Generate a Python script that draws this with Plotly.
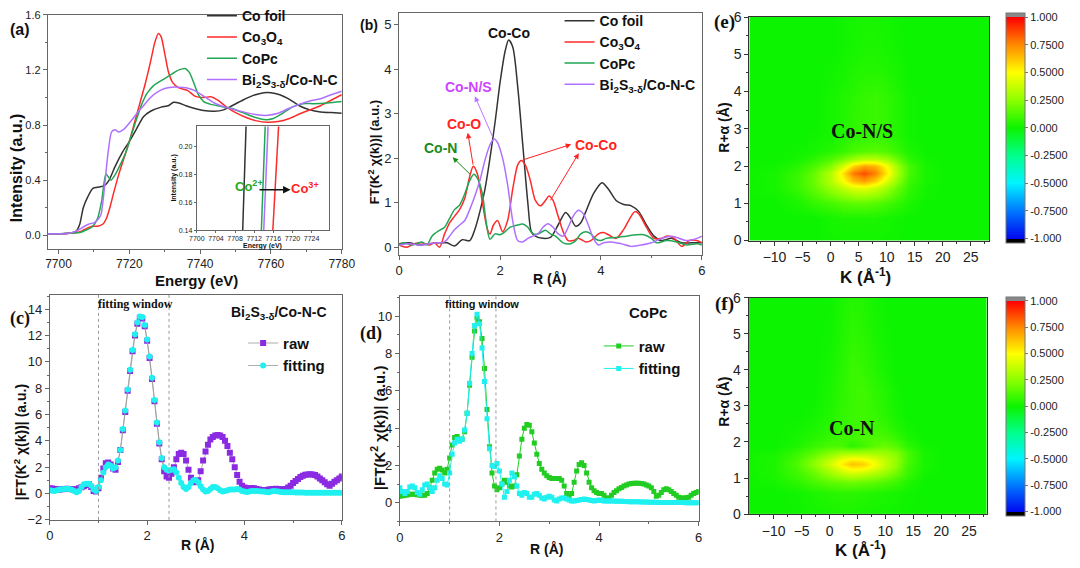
import numpy as np
import plotly.graph_objects as go

W, H = 1080, 568
SANS = "Arial, Liberation Sans, sans-serif"
SERIF = "Times New Roman, Liberation Serif, serif"

def dx(p):
    return p / W

def dy(p):
    return 1 - p / H

# ---------------- (a) XANES ----------------
a_foil_E = [7697, 7700, 7703, 7705, 7706, 7707, 7708.3, 7709.7, 7711.5, 7713, 7714.3, 7716, 7718, 7720, 7722,
            7724, 7726, 7729, 7731, 7732.5, 7734, 7736, 7738.5, 7741, 7744, 7746.6, 7749, 7752, 7755, 7758,
            7760, 7762.5, 7765, 7768, 7771, 7774, 7777, 7780]
a_foil_I = [0.01, 0.01, 0.015, 0.03, 0.08, 0.2, 0.28, 0.34, 0.35, 0.36, 0.40, 0.5, 0.6, 0.68, 0.77,
            0.86, 0.9, 0.93, 0.94, 0.965, 0.96, 0.94, 0.92, 0.905, 0.90, 0.91, 0.94, 0.98, 1.015, 1.035,
            1.035, 1.02, 0.99, 0.94, 0.91, 0.895, 0.89, 0.885]
a_co3o4_E = [7697, 7700, 7703, 7705, 7706.5, 7708, 7709.5, 7711, 7712.5, 7713.5, 7714.5, 7715.5, 7717, 7718.5,
             7720, 7721.5, 7723, 7724.5, 7726, 7727.2, 7728.2, 7729, 7730, 7731, 7732.2, 7734, 7736.5, 7738.5,
             7741, 7743, 7745, 7747.5, 7750, 7753, 7756, 7759, 7762, 7765, 7768, 7771, 7774, 7777, 7780]
a_co3o4_I = [0.01, 0.01, 0.015, 0.02, 0.03, 0.05, 0.065, 0.065, 0.08, 0.12, 0.2, 0.3, 0.44, 0.56,
             0.68, 0.82, 0.96, 1.1, 1.26, 1.40, 1.465, 1.44, 1.32, 1.19, 1.11, 1.07, 1.05, 1.01,
             1.0, 1.005, 0.98, 0.93, 0.89, 0.855, 0.83, 0.82, 0.825, 0.845, 0.88, 0.91, 0.94, 0.98, 1.02]
a_copc_E = [7697, 7700, 7703, 7706, 7708, 7709.5, 7711, 7712.2, 7713.4, 7714.8, 7716, 7717.6, 7719, 7720.5,
            7722, 7723.5, 7725, 7727, 7729.5, 7732, 7734, 7735.8, 7737, 7738.3, 7739.5, 7741, 7743, 7746,
            7749, 7752, 7755, 7758, 7760.5, 7763, 7766, 7769, 7772, 7776, 7780]
a_copc_I = [0.01, 0.01, 0.015, 0.02, 0.04, 0.06, 0.12, 0.25, 0.445, 0.40, 0.44, 0.52, 0.6, 0.72,
            0.84, 0.95, 1.03, 1.09, 1.13, 1.17, 1.2, 1.21, 1.18, 1.10, 1.02, 0.97, 0.95, 0.935,
            0.92, 0.89, 0.86, 0.84, 0.845, 0.88, 0.93, 0.955, 0.955, 0.96, 0.97]
a_bi_E = [7697, 7700, 7703, 7705, 7707, 7708.5, 7710, 7711, 7712, 7713, 7714, 7715, 7716, 7717, 7718.5,
          7720.5, 7722, 7724, 7726, 7728, 7730, 7732, 7734, 7736, 7738.5, 7741, 7744, 7747, 7750, 7753,
          7756, 7759, 7762, 7765, 7768, 7771, 7774, 7777, 7780]
a_bi_I = [0.01, 0.01, 0.015, 0.03, 0.06, 0.08, 0.09, 0.11, 0.15, 0.35, 0.6, 0.75, 0.765, 0.75, 0.77,
          0.83, 0.88, 0.94, 1.0, 1.04, 1.065, 1.075, 1.075, 1.07, 1.05, 1.01, 0.96, 0.93, 0.91, 0.89,
          0.875, 0.87, 0.885, 0.92, 0.95, 0.975, 0.99, 1.02, 1.045]

# inset of (a): edge crossing
ins_I = [0.14, 0.2147]
ins_foil_E = [7709.6, 7710.3]
ins_copc_E = [7713.5, 7714.3]
ins_bi_E = [7714.0, 7714.9]
ins_co3o4_E = [7715.9, 7717.1]

# ---------------- (b) FT-EXAFS ----------------
b_foil_R = [0, 0.2, 0.4, 0.6, 0.8, 0.95, 1.1, 1.25, 1.4, 1.5, 1.6, 1.7, 1.8, 1.9, 2.0, 2.1, 2.17, 2.25, 2.35,
            2.45, 2.55, 2.62, 2.7, 2.85, 3.0, 3.15, 3.3, 3.4, 3.5, 3.6, 3.7, 3.85, 4.02, 4.15, 4.3, 4.45, 4.6,
            4.75, 4.9, 5.05, 5.2, 5.4, 5.6, 5.8, 6.0]
b_foil_v = [0.08, 0.1, 0.05, 0.08, 0.1, 0.1, 0.03, 0.17, 0.15, 0.4, 0.8, 1.3, 2.0, 2.8, 3.7, 4.4, 4.65, 4.5, 3.6,
            2.3, 1.0, 0.35, 0.25, 0.2, 0.22, 0.5, 0.78, 0.65, 0.47, 0.55, 0.8, 1.2, 1.45, 1.3, 1.05, 0.96, 0.93,
            0.8, 0.5, 0.25, 0.15, 0.2, 0.1, 0.1, 0.1]
b_co3o4_R = [0, 0.15, 0.3, 0.45, 0.6, 0.7, 0.8, 0.9, 1.0, 1.1, 1.2, 1.3, 1.4, 1.47, 1.55, 1.65, 1.75, 1.8, 1.87,
             1.95, 2.05, 2.15, 2.25, 2.35, 2.42, 2.5, 2.6, 2.7, 2.8, 2.9, 2.97, 3.05, 3.15, 3.25, 3.35, 3.45,
             3.55, 3.7, 3.8, 3.95, 4.05, 4.15, 4.3, 4.45, 4.6, 4.67, 4.75, 4.9, 5.05, 5.2, 5.3, 5.45, 5.6,
             5.75, 5.9, 6.0]
b_co3o4_v = [0.05, 0.0, 0.08, 0.1, 0.05, 0.1, 0.0, 0.3, 0.55, 0.7, 0.85, 1.1, 1.6, 1.82, 1.65, 1.0, 0.4, 0.3, 0.5,
             0.6, 0.35, 0.6, 1.3, 1.85, 1.95, 1.85, 1.5, 1.05, 0.93, 1.05, 1.15, 1.05, 0.7, 0.35, 0.15, 0.15,
             0.2, 0.12, 0.15, 0.3, 0.33, 0.28, 0.2, 0.4, 0.7, 0.8, 0.75, 0.45, 0.2, 0.2, 0.25, 0.2, 0.02,
             0.15, 0.15, 0.1]
b_copc_R = [0, 0.1, 0.25, 0.35, 0.45, 0.55, 0.65, 0.8, 0.9, 1.0, 1.1, 1.2, 1.3, 1.4, 1.48, 1.55, 1.65, 1.72, 1.8,
            1.9, 2.0, 2.1, 2.2, 2.35, 2.45, 2.55, 2.65, 2.75, 2.9, 3.0, 3.1, 3.25, 3.4, 3.5, 3.6, 3.7, 3.8, 3.9,
            4.0, 4.1, 4.3, 4.5, 4.7, 4.85, 5.0, 5.1, 5.3, 5.5, 5.7, 5.9, 6.0]
b_copc_v = [0.05, 0.1, 0.05, 0.08, 0.12, 0.05, 0.25, 0.38, 0.45, 0.65, 0.85, 0.95, 1.2, 1.5, 1.64, 1.55, 1.2, 0.6,
            0.18, 0.3, 0.28, 0.35, 0.45, 0.5, 0.52, 0.45, 0.3, 0.3, 0.38, 0.3, 0.25, 0.1, 0.08, 0.15, 0.3, 0.35,
            0.3, 0.18, 0.15, 0.2, 0.22, 0.25, 0.28, 0.28, 0.2, 0.1, 0.15, 0.12, 0.05, 0.08, 0.05]
b_bi_R = [0, 0.2, 0.4, 0.6, 0.75, 0.9, 1.0, 1.1, 1.2, 1.3, 1.4, 1.5, 1.6, 1.7, 1.8, 1.88, 1.95, 2.05, 2.15, 2.25,
          2.35, 2.45, 2.55, 2.65, 2.75, 2.85, 2.95, 3.05, 3.15, 3.25, 3.35, 3.45, 3.55, 3.65, 3.75, 3.85, 3.95,
          4.05, 4.2, 4.4, 4.6, 4.8, 5.0, 5.2, 5.4, 5.5, 5.7, 5.9, 6.0]
b_bi_v = [0.05, 0.08, 0.05, 0.08, 0.1, 0.12, 0.25, 0.4, 0.5, 0.6, 0.85, 1.15, 1.5, 1.95, 2.3, 2.43, 2.35, 2.0, 1.4,
          0.6, 0.15, 0.12, 0.2, 0.25, 0.3, 0.45, 0.53, 0.45, 0.3, 0.25, 0.45, 0.7, 0.83, 0.75, 0.5, 0.2, 0.05,
          0.1, 0.12, 0.08, 0.02, 0.05, 0.1, 0.2, 0.25, 0.22, 0.15, 0.2, 0.25]

# ---------------- (c), (d) fits ----------------
fit_R = np.round(np.arange(0, 6.0001, 0.05), 2)
c_raw = [0.40, 0.38, 0.35, 0.32, 0.30, 0.32, 0.35, 0.36, 0.35, 0.32,
         0.30, 0.33, 0.40, 0.48, 0.56, 0.65, 0.70, 0.50, 0.20, 0.15,
         0.40, 1.20, 1.90, 2.30, 2.35, 2.20, 1.90, 1.80, 2.40, 3.30,
         4.80, 6.20, 7.80, 9.30, 10.8, 12.0, 12.9, 13.35, 13.3, 12.7,
         11.6, 10.3, 8.70, 7.00, 5.30, 3.80, 2.60, 1.70, 1.30, 1.20,
         1.50, 2.00, 2.60, 3.00, 3.10, 3.00, 2.50, 1.80, 1.20, 0.90,
         0.85, 1.00, 1.70, 2.50, 3.20, 3.70, 4.10, 4.30, 4.40, 4.45,
         4.40, 4.30, 4.00, 3.60, 3.10, 2.60, 2.00, 1.40, 0.90, 0.60,
         0.45, 0.40, 0.40, 0.42, 0.40, 0.35, 0.30, 0.27, 0.25, 0.27,
         0.30, 0.33, 0.35, 0.36, 0.35, 0.33, 0.30, 0.35, 0.45, 0.60,
         0.80, 0.95, 1.10, 1.25, 1.35, 1.42, 1.45, 1.47, 1.45, 1.40,
         1.30, 1.15, 1.00, 0.85, 0.70, 0.60, 0.75, 0.90, 1.00, 1.15,
         1.30]
c_fit = [0.25, 0.22, 0.20, 0.25, 0.30, 0.33, 0.35, 0.36, 0.35, 0.28,
         0.20, 0.10, 0.20, 0.50, 0.70, 0.75, 0.75, 0.60, 0.30, 0.20,
         0.50, 1.00, 1.60, 2.00, 2.20, 2.10, 1.90, 2.00, 2.50, 3.30,
         4.90, 6.30, 7.90, 9.40, 10.9, 12.1, 13.0, 13.45, 13.4, 12.8,
         11.7, 10.4, 8.80, 7.10, 5.40, 3.90, 2.70, 2.00, 1.80, 1.75,
         1.80, 1.85, 1.60, 1.20, 0.80, 0.50, 0.35, 0.50, 0.80, 1.00,
         1.00, 0.85, 0.55, 0.30, 0.15, 0.20, 0.35, 0.50, 0.50, 0.40,
         0.25, 0.15, 0.20, 0.25, 0.30, 0.30, 0.30, 0.35, 0.30, 0.20,
         0.15, 0.12, 0.15, 0.20, 0.20, 0.20, 0.18, 0.15, 0.15, 0.12,
         0.10, 0.15, 0.20, 0.18, 0.15, 0.12, 0.10, 0.10, 0.10, 0.10,
         0.10, 0.08, 0.08, 0.07, 0.07, 0.06, 0.06, 0.06, 0.05, 0.05,
         0.05, 0.05, 0.05, 0.05, 0.05, 0.05, 0.05, 0.05, 0.05, 0.05,
         0.05]
d_raw = [0.35, 0.38, 0.40, 0.42, 0.45, 0.45, 0.45, 0.43, 0.40, 0.40,
         0.40, 0.50, 0.80, 1.20, 1.60, 1.80, 1.85, 1.75, 1.60, 1.80,
         2.40, 3.10, 3.50, 3.55, 3.40, 3.40, 3.80, 4.80, 6.30, 7.80,
         9.20, 9.90, 9.70, 8.80, 7.20, 5.00, 3.00, 1.60, 0.90, 0.70,
         0.80, 1.00, 1.20, 1.10, 0.90, 0.85, 0.90, 1.50, 2.50, 3.40,
         4.00, 4.20, 4.15, 3.80, 3.20, 2.60, 2.10, 1.80, 1.60, 1.45,
         1.35, 1.30, 1.30, 1.30, 1.30, 1.20, 0.90, 0.50, 0.30, 0.50,
         1.10, 1.70, 2.05, 2.15, 2.00, 1.60, 1.10, 0.80, 0.65, 0.55,
         0.50, 0.50, 0.40, 0.25, 0.25, 0.40, 0.55, 0.65, 0.75, 0.82,
         0.90, 0.95, 1.00, 1.03, 1.05, 1.05, 1.05, 1.03, 1.00, 0.95,
         0.90, 0.80, 0.60, 0.35, 0.40, 0.55, 0.70, 0.75, 0.70, 0.60,
         0.50, 0.40, 0.30, 0.25, 0.25, 0.27, 0.30, 0.40, 0.50, 0.55,
         0.60]
d_fit = [0.80, 0.60, 0.50, 0.60, 0.85, 0.90, 0.80, 0.55, 0.45, 0.70,
         0.95, 1.00, 0.80, 0.60, 0.80, 1.20, 1.45, 1.30, 1.00, 0.95,
         1.60, 2.60, 3.20, 3.40, 3.30, 3.40, 3.90, 4.80, 6.40, 8.00,
         9.50, 10.1, 9.60, 8.30, 6.50, 4.50, 2.90, 2.00, 1.95, 2.10,
         1.70, 1.00, 0.30, 0.60, 1.20, 1.60, 1.40, 0.90, 0.50, 0.40,
         0.55, 0.50, 0.30, 0.30, 0.45, 0.50, 0.40, 0.25, 0.20, 0.30,
         0.35, 0.30, 0.15, 0.10, 0.20, 0.25, 0.25, 0.20, 0.15, 0.10,
         0.10, 0.12, 0.15, 0.18, 0.20, 0.18, 0.15, 0.12, 0.10, 0.12,
         0.15, 0.12, 0.10, 0.10, 0.10, 0.10, 0.10, 0.08, 0.08, 0.08,
         0.07, 0.07, 0.06, 0.06, 0.05, 0.05, 0.05, 0.04, 0.04, 0.04,
         0.03, 0.03, 0.03, 0.03, 0.02, 0.02, 0.02, 0.02, 0.02, 0.01,
         0.01, 0.01, 0.01, 0.01, 0.01, 0.0, 0.0, 0.0, 0.0, 0.0,
         0.0]
c_window = [1.0, 2.45]
d_window = [1.0, 1.93]

# ---------------- (e), (f) wavelet maps ----------------
wt_k = [-17, -10, -6, -3, 0, 2, 4, 6, 8, 10, 12, 14, 17, 21, 31]
e_R = [-0.5, 0.6, 1.0, 1.2, 1.4, 1.6, 1.8, 2.0, 2.2, 2.4, 2.8, 3.2, 3.8, 4.5, 5.2, 6.5]
e_z = [
    [0, 0, 0, 0, 0, 0, 0, 0, 0, 0, 0, 0, 0, 0, 0],
    [0, 0, 0, 0, 0.02, 0.03, 0.03, 0.03, 0.03, 0.02, 0.01, 0, 0, 0, 0],
    [0, 0, 0.03, 0.07, 0.11, 0.14, 0.16, 0.16, 0.14, 0.11, 0.07, 0.03, 0, 0, 0],
    [0, 0.01, 0.05, 0.12, 0.19, 0.24, 0.28, 0.29, 0.26, 0.20, 0.12, 0.05, 0.01, 0, 0],
    [0, 0.02, 0.08, 0.16, 0.27, 0.35, 0.42, 0.44, 0.38, 0.29, 0.17, 0.07, 0.01, 0, 0],
    [0, 0.02, 0.09, 0.18, 0.33, 0.48, 0.64, 0.70, 0.60, 0.43, 0.24, 0.09, 0.02, 0, 0],
    [0, 0.02, 0.08, 0.17, 0.33, 0.55, 0.78, 0.86, 0.76, 0.55, 0.29, 0.11, 0.02, 0, 0],
    [0, 0.01, 0.05, 0.12, 0.23, 0.40, 0.60, 0.70, 0.66, 0.50, 0.27, 0.11, 0.02, 0, 0],
    [0, 0, 0.02, 0.06, 0.13, 0.21, 0.29, 0.35, 0.35, 0.29, 0.17, 0.06, 0.01, 0, 0],
    [0, 0, 0.01, 0.02, 0.05, 0.08, 0.12, 0.14, 0.15, 0.13, 0.08, 0.03, 0, 0, 0],
    [0, 0, 0, 0.01, 0.02, 0.04, 0.06, 0.07, 0.08, 0.07, 0.04, 0.01, 0, 0, 0],
    [0, 0, 0, 0, 0.02, 0.04, 0.07, 0.08, 0.09, 0.07, 0.04, 0.01, 0, 0, 0],
    [0, 0, 0, 0, 0.02, 0.04, 0.06, 0.08, 0.09, 0.07, 0.04, 0.01, 0, 0, 0],
    [0, 0, 0, 0, 0.01, 0.02, 0.04, 0.05, 0.05, 0.04, 0.02, 0, 0, 0, 0],
    [0, 0, 0, 0, 0, 0.01, 0.02, 0.03, 0.03, 0.02, 0.01, 0, 0, 0, 0],
    [0, 0, 0, 0, 0, 0.01, 0.02, 0.02, 0.02, 0.01, 0, 0, 0, 0, 0],
]
f_R = [-0.5, 0.6, 0.9, 1.1, 1.3, 1.4, 1.5, 1.7, 1.9, 2.1, 2.4, 2.8, 3.4, 4.0, 4.8, 6.5]
f_z = [
    [0, 0, 0, 0, 0, 0, 0, 0, 0, 0, 0, 0, 0, 0, 0],
    [0, 0, 0.01, 0.03, 0.05, 0.06, 0.06, 0.05, 0.04, 0.03, 0.02, 0.01, 0, 0, 0],
    [0, 0.02, 0.06, 0.11, 0.16, 0.18, 0.19, 0.18, 0.16, 0.13, 0.09, 0.04, 0, 0, 0],
    [0, 0.03, 0.09, 0.16, 0.26, 0.32, 0.36, 0.34, 0.29, 0.24, 0.17, 0.08, 0.01, 0, 0],
    [0, 0.03, 0.11, 0.22, 0.36, 0.47, 0.56, 0.54, 0.45, 0.34, 0.24, 0.10, 0.02, 0, 0],
    [0, 0.03, 0.12, 0.24, 0.40, 0.52, 0.63, 0.60, 0.49, 0.36, 0.25, 0.11, 0.02, 0, 0],
    [0, 0.03, 0.11, 0.22, 0.36, 0.47, 0.54, 0.52, 0.45, 0.35, 0.26, 0.12, 0.02, 0, 0],
    [0, 0.02, 0.08, 0.15, 0.24, 0.29, 0.31, 0.31, 0.30, 0.28, 0.23, 0.12, 0.02, 0, 0],
    [0, 0, 0.03, 0.08, 0.12, 0.12, 0.06, 0.10, 0.16, 0.18, 0.14, 0.06, 0.01, 0, 0],
    [0, 0, 0.02, 0.05, 0.08, 0.10, 0.10, 0.12, 0.13, 0.12, 0.08, 0.03, 0, 0, 0],
    [0, 0, 0.01, 0.03, 0.06, 0.08, 0.09, 0.10, 0.10, 0.08, 0.04, 0.01, 0, 0, 0],
    [0, 0, 0, 0.01, 0.04, 0.07, 0.09, 0.10, 0.08, 0.05, 0.02, 0, 0, 0, 0],
    [0, 0, 0, 0, 0.03, 0.06, 0.09, 0.10, 0.07, 0.04, 0.01, 0, 0, 0, 0],
    [0, 0, 0, 0, 0.02, 0.05, 0.09, 0.08, 0.05, 0.02, 0, 0, 0, 0, 0],
    [0, 0, 0, 0, 0.01, 0.04, 0.07, 0.06, 0.03, 0.01, 0, 0, 0, 0, 0],
    [0, 0, 0, 0, 0, 0.02, 0.04, 0.03, 0.01, 0, 0, 0, 0, 0, 0],
]
cb_vals = [-1, -0.75, -0.5, -0.25, 0, 0.25, 0.5, 0.75, 1]
cb_text = ["-1.000", "-0.7500", "-0.5000", "-0.2500", "0.000", "0.2500", "0.5000", "0.7500", "1.000"]
cb_colors = ["#0008f0", "#0078ff", "#00f4ff", "#00ff8c", "#0cf400", "#8cff00", "#ffff00", "#ff8a00", "#ff0000"]
cb_pad = 0.04

zmin, zmax = -1 - cb_pad, 1 + cb_pad
def pos(v):
    return (v - zmin) / (zmax - zmin)
cscale = [[0, "#000000"], [pos(-1) - 0.0005, "#000000"]]
for v, c in zip(cb_vals, cb_colors):
    cscale.append([pos(v), c])
cscale += [[pos(1) + 0.0005, "#888888"], [1, "#888888"]]

# colors
C_FOIL, C_RED, C_GREEN, C_PURP = "#333333", "#ff2a2a", "#22a655", "#b070ff"

fig = go.Figure()

# (a) traces
names = ["<b>Co foil</b>", "<b>Co<sub>3</sub>O<sub>4</sub></b>", "<b>CoPc</b>",
         "<b>Bi<sub>2</sub>S<sub>3-δ</sub>/Co-N-C</b>"]
for nm, E, I, col in zip(names, [a_foil_E, a_co3o4_E, a_copc_E, a_bi_E],
                         [a_foil_I, a_co3o4_I, a_copc_I, a_bi_I], [C_FOIL, C_RED, C_GREEN, C_PURP]):
    fig.add_trace(go.Scatter(x=E, y=I, mode="lines", name=nm, legend="legend",
                             line=dict(color=col, width=1.5, shape="spline", smoothing=0.6),
                             xaxis="x", yaxis="y"))
for E, col in zip([ins_foil_E, ins_copc_E, ins_bi_E, ins_co3o4_E], [C_FOIL, C_GREEN, C_PURP, C_RED]):
    fig.add_trace(go.Scatter(x=E, y=ins_I, mode="lines", showlegend=False,
                             line=dict(color=col, width=1.5), xaxis="x2", yaxis="y2"))

# (b) traces
for nm, R, v, col in zip(names, [b_foil_R, b_co3o4_R, b_copc_R, b_bi_R],
                         [b_foil_v, b_co3o4_v, b_copc_v, b_bi_v], [C_FOIL, C_RED, C_GREEN, C_PURP]):
    fig.add_trace(go.Scatter(x=R, y=v, mode="lines", name=nm, legend="legend2",
                             line=dict(color=col, width=1.5, shape="spline", smoothing=0.8),
                             xaxis="x3", yaxis="y3"))

# (c) traces
fig.add_trace(go.Scatter(x=fit_R, y=c_raw, mode="lines+markers", name="<b>raw</b>", legend="legend3",
                         line=dict(color="#999999", width=0.8),
                         marker=dict(symbol="square", size=6, color="#8a2be2"), xaxis="x4", yaxis="y4"))
fig.add_trace(go.Scatter(x=fit_R, y=c_fit, mode="lines+markers", name="<b>fitting</b>", legend="legend3",
                         line=dict(color="#999999", width=0.8),
                         marker=dict(symbol="circle", size=6, color="#1ff0f0"), xaxis="x4", yaxis="y4"))
# (d) traces
fig.add_trace(go.Scatter(x=fit_R, y=d_raw, mode="lines+markers", name="<b>raw</b>", legend="legend4",
                         line=dict(color="#22cc22", width=1),
                         marker=dict(symbol="square", size=5, color="#22cc22"), xaxis="x5", yaxis="y5"))
fig.add_trace(go.Scatter(x=fit_R, y=d_fit, mode="lines+markers", name="<b>fitting</b>", legend="legend4",
                         line=dict(color="#1ff0f0", width=1),
                         marker=dict(symbol="square", size=5, color="#1ff0f0"), xaxis="x5", yaxis="y5"))

# (e), (f) maps
cb_common = dict(xanchor="left", yanchor="middle", lenmode="pixels", thickness=19, thicknessmode="pixels",
                 xpad=0, ypad=0, tickvals=cb_vals, ticktext=cb_text, ticks="outside", ticklen=3,
                 tickcolor="#777", tickfont=dict(family=SANS, size=11, color="#222"),
                 outlinewidth=1, outlinecolor="#777")
fig.add_trace(go.Heatmap(x=wt_k, y=e_R, z=e_z, zsmooth="best", colorscale=cscale, zmin=zmin, zmax=zmax,
                         xaxis="x6", yaxis="y6",
                         colorbar=dict(x=dx(1019), y=dy(123.3), len=230, **cb_common)))
fig.add_trace(go.Heatmap(x=wt_k, y=f_R, z=f_z, zsmooth="best", colorscale=cscale, zmin=zmin, zmax=zmax,
                         xaxis="x7", yaxis="y7",
                         colorbar=dict(x=dx(1019), y=dy(409.7), len=219, **cb_common)))

# ---------------- axes ----------------
def ax(domain, rng, anchor, size=12, lc="#666", **kw):
    d = dict(domain=domain, range=rng, anchor=anchor, showline=True, mirror=True, linecolor=lc, linewidth=1,
             ticks="outside", ticklen=4, tickwidth=1, tickcolor=lc, showgrid=False, zeroline=False,
             tickfont=dict(family=SANS, size=size, color="#222"))
    d.update(kw)
    return d

def mn(dt, ln=2, lc="#666"):
    return dict(ticks="outside", ticklen=ln, dtick=dt, tickcolor=lc)

layout_axes = dict(
    xaxis=ax([dx(40.7), dx(340.7)], [7697, 7780], "y", 12, tick0=7700, dtick=20, minor=mn(10)),
    yaxis=ax([dy(248), dy(7)], [-0.1, 1.6], "x", 11, tick0=0, dtick=0.4, tickformat=".1f", minor=mn(0.2)),
    xaxis2=ax([dx(192.7), dx(327.5)], [7700, 7727.6], "y2", 7, tick0=7700, dtick=4, ticklen=2),
    yaxis2=ax([dy(228.5), dy(121.7)], [0.14, 0.2147], "x2", 7, tick0=0.14, dtick=0.02, tickformat=".2f",
              ticklen=2),
    xaxis3=ax([dx(399.3), dx(708.3)], [0, 6], "y3", 13, dtick=2, minor=mn(1)),
    yaxis3=ax([dy(254), dy(5.5)], [-0.17, 5.25], "x3", 13, dtick=1),
    xaxis4=ax([dx(42.7), dx(340.7)], [0, 6], "y4", 13, dtick=2, minor=mn(1)),
    yaxis4=ax([dy(526.7), dy(295)], [-2, 15.1], "x4", 13, dtick=2, minor=mn(1)),
    xaxis5=ax([dx(400), dx(705)], [0, 6], "y5", 13, dtick=2, minor=mn(1)),
    yaxis5=ax([dy(528.3), dy(296)], [-1, 11.1], "x5", 13, dtick=2, minor=mn(1)),
    xaxis6=ax([dx(756.7), dx(1001.7)], [-14.5, 28.3], "y6", 14, lc="#333",
              tickvals=[-10, -5, 0, 5, 10, 15, 20, 25], minor=mn(2.5, 2, "#333")),
    yaxis6=ax([dy(239.3), dy(9.3)], [0, 6], "x6", 14, lc="#333", dtick=1, minor=mn(0.5, 2, "#333")),
    xaxis7=ax([dx(756), dx(999.3)], [-14.5, 28.2], "y7", 14, lc="#333",
              tickvals=[-10, -5, 0, 5, 10, 15, 20, 25], minor=mn(2.5, 2, "#333")),
    yaxis7=ax([dy(520.7), dy(298.3)], [0, 6], "x7", 14, lc="#333", dtick=1, minor=mn(0.5, 2, "#333")),
)

def leg(x, y, size):
    return dict(x=dx(x), y=dy(y), xanchor="left", yanchor="top", bgcolor="rgba(0,0,0,0)",
                font=dict(family=SANS, size=size, color="#111"), itemwidth=30, tracegroupgap=0)

# ---------------- annotations ----------------
ann = []
def txt(x, y, s, size=14, color="#111", family=SANS, angle=0, xref="paper", yref="paper", **kw):
    a = dict(x=x, y=y, text=s, showarrow=False, xref=xref, yref=yref, textangle=angle,
             font=dict(family=family, size=size, color=color), xanchor="center", yanchor="middle")
    a.update(kw)
    ann.append(a)

# panel labels and axis titles (paper positions)
txt(dx(12), dy(22), "<b>(a)</b>", 16)
txt(dx(9), dy(165), "<b>Intensity (a.u.)</b>", 16, angle=-90)
txt(dx(192), dy(280), "<b>Energy (eV)</b>", 15)
txt(dx(369), dy(17), "<b>(b)</b>", 14)
txt(dx(373), dy(148), "<b>FT(K<sup>2</sup> χ(k))| (a.u.)</b>", 13, angle=-90)
txt(dx(553), dy(279), "<b>R (Å)</b>", 14)
txt(dx(12), dy(320), "<b>(c)</b>", 18, family=SERIF)
txt(dx(13), dy(447), "<b>|FT(K<sup>2</sup> χ(k))| (a.u.)</b>", 14, angle=-90)
txt(dx(193), dy(553), "<b>R (Å)</b>", 14)
txt(dx(371), dy(335), "<b>(d)</b>", 18, family=SERIF)
txt(dx(378), dy(432), "<b>|FT(K<sup>2</sup> χ(k))| (a.u.)</b>", 15, angle=-90)
txt(dx(550), dy(557), "<b>R (Å)</b>", 14)
txt(dx(731), dy(14), "<b>(e)</b>", 19, family=SERIF)
txt(dx(730), dy(123), "<b>R+α (Å)</b>", 14, angle=-90)
txt(dx(875), dy(276), "<b>K (Å<sup>-1</sup>)</b>", 17)
txt(dx(731), dy(305), "<b>(f)</b>", 19, family=SERIF)
txt(dx(730), dy(405), "<b>R+α (Å)</b>", 14, angle=-90)
txt(dx(870), dy(557), "<b>K (Å<sup>-1</sup>)</b>", 17)

# inset labels
txt(dx(260), dy(245), "<b>Energy (eV)</b>", 7)
txt(dx(170), dy(175), "<b>Intensity (a.u.)</b>", 7, angle=-90)
txt(7711.0, 0.1715, "<b>Co<sup>2+</sup></b>", 13, "#22aa22", xref="x2", yref="y2")
txt(7722.6, 0.1705, "<b>Co<sup>3+</sup></b>", 13, "#ff2222", xref="x2", yref="y2")
ann.append(dict(x=7719.6, y=0.169, ax=7712.8, ay=0.169, xref="x2", yref="y2", axref="x2", ayref="y2",
                text="", showarrow=True, arrowhead=2, arrowsize=1, arrowwidth=1.5, arrowcolor="#111"))

# (b) labels & arrows
txt(2.18, 4.8, "<b>Co-Co</b>", 14, "#111", xref="x3", yref="y3")
txt(1.37, 3.59, "<b>Co-N/S</b>", 14, "#cc44ff", xref="x3", yref="y3")
txt(1.29, 2.76, "<b>Co-O</b>", 14, "#ff2222", xref="x3", yref="y3")
txt(0.82, 2.22, "<b>Co-N</b>", 14, "#1a8a1a", xref="x3", yref="y3")
txt(3.91, 2.29, "<b>Co-Co</b>", 14, "#ff2222", xref="x3", yref="y3")
b_arrows = [  # (head R, head v, tail R, tail v, color)
    (1.50, 3.39, 1.86, 2.46, "#bb77ff"),
    (1.36, 2.57, 1.47, 1.82, "#ff2222"),
    (1.06, 2.02, 1.44, 1.60, "#1a8a1a"),
    (3.41, 2.31, 2.42, 1.95, "#ff2222"),
    (3.56, 2.11, 2.98, 1.02, "#ff2222"),
]
for hx, hy, tx, ty, col in b_arrows:
    ann.append(dict(x=hx, y=hy, ax=tx, ay=ty, xref="x3", yref="y3", axref="x3", ayref="y3", text="",
                    showarrow=True, arrowhead=2, arrowsize=1.1, arrowwidth=1, arrowcolor=col))

# (c), (d) texts
txt(dx(130), dy(305), "<b>fitting window</b>", 12, family=SERIF)
txt(dx(277), dy(314), "<b>Bi<sub>2</sub>S<sub>3-δ</sub>/Co-N-C</b>", 14)
txt(dx(484), dy(305), "<b>fitting window</b>", 11)
txt(dx(653), dy(313), "<b>CoPc</b>", 15)

# (e), (f) labels
txt(5.6, 2.94, "<b>Co-N/S</b>", 20, "#111", family=SERIF, xref="x6", yref="y6")
txt(4.0, 2.4, "<b>Co-N</b>", 20, "#111", family=SERIF, xref="x7", yref="y7")

shapes = []
for xv in c_window:
    shapes.append(dict(type="line", xref="x4", yref="y4 domain", x0=xv, x1=xv, y0=0, y1=1,
                       line=dict(color="#999", width=1, dash="dot")))
for xv in d_window:
    shapes.append(dict(type="line", xref="x5", yref="y5 domain", x0=xv, x1=xv, y0=0, y1=1,
                       line=dict(color="#999", width=1, dash="dot")))

fig.update_layout(
    width=W, height=H, margin=dict(l=0, r=0, t=0, b=0), autosize=False,
    paper_bgcolor="white", plot_bgcolor="white",
    font=dict(family=SANS, color="#111"),
    legend=leg(198, -8, 14), legend2=leg(563, -3, 14), legend3=leg(240, 328, 15), legend4=leg(603, 331, 15),
    annotations=ann, shapes=shapes,
    **layout_axes,
)

fig.write_html("out.html")
